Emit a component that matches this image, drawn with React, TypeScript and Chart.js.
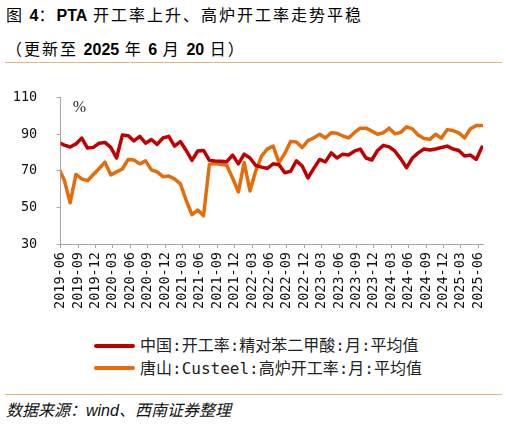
import React, { useEffect, useRef } from 'react';
import { Chart, registerables } from 'chart.js';

Chart.register(...registerables);

// Months of the series (first month falls just before the visible axis and is clipped)
const months: string[] = [];
for (let y = 2019; y <= 2025; y++) {
  for (let m = 1; m <= 12; m++) {
    const key = y * 100 + m;
    if (key >= 201905 && key <= 202506) months.push(`${y}-${String(m).padStart(2, '0')}`);
  }
}

// 中国:开工率:精对苯二甲酸:月:平均值 (%)
const ptaRate: number[] = [
  85.5, 84, 83, 84.7, 87.9, 82.4, 82.8, 85.1, 85.5, 82.8,
  77, 89.5, 89.2, 86.3, 88.8, 85.1, 87.1, 84.4, 87.9, 88.8,
  83.5, 86, 81.1, 75.7, 80.8, 81.1, 75.7, 75.4, 75.2, 75,
  78.6, 73.8, 79.1, 77, 72.9, 72, 71.3, 73.8, 73.3, 68.9,
  69.7, 75.4, 72.6, 66.1, 71.3, 76.2, 74.9, 79.8, 77, 79.1,
  78.6, 80.7, 81.9, 77, 75.9, 81.1, 83.9, 83.1, 80.7, 76.5,
  71.7, 77, 79.8, 81.9, 81.4, 81.9, 82.7, 83.5, 81.9, 81.1,
  78.1, 78.6, 76.2, 83,
];

// 唐山:Custeel:高炉开工率:月:平均值 (%)
const blastRate: number[] = [
  71.5, 64.8, 52.5, 68, 65.6, 64.6, 68, 71.3, 74.7, 67.8,
  69.4, 71, 76.2, 75.9, 73.8, 75.4, 70.5, 69.4, 66.8, 67.1,
  65.6, 62.9, 53.8, 46, 48.5, 45.5, 73.5, 74, 73.5, 73,
  66, 58.5, 74.5, 59, 70, 78, 82, 83.5, 74.5, 79.5,
  86, 85.8, 82.7, 86.5, 88, 90, 87.9, 90.8, 90.5, 89,
  88, 90.8, 93.3, 93.3, 91.7, 90, 90.8, 93.3, 90.2, 91,
  94, 92.9, 89.5, 87.6, 87.2, 90, 87.8, 92.5, 92, 90.7,
  88, 93, 94.7, 94.7,
];

const tickLabels: string[] = [
  '2019-06', '2019-09', '2019-12', '2020-03', '2020-06', '2020-09', '2020-12',
  '2021-03', '2021-06', '2021-09', '2021-12', '2022-03', '2022-06', '2022-09',
  '2022-12', '2023-03', '2023-06', '2023-09', '2023-12', '2024-03', '2024-06',
  '2024-09', '2024-12', '2025-03', '2025-06',
];

const seriesNames = ['中国:开工率:精对苯二甲酸:月:平均值', '唐山:Custeel:高炉开工率:月:平均值'];
const seriesColors = ['#C00000', '#E46C0A'];

// position in months from the 2019-06 tick; observations dated around the 20th
const DAY_FRACTION = 0.63;
function monthPos(m: string): number {
  const [y, mo] = m.split('-').map(Number);
  return (y - 2019) * 12 + (mo - 6) + DAY_FRACTION;
}

const percentPlugin = {
  id: 'percentLabel',
  afterDraw(chart: any) {
    const { ctx, chartArea } = chart;
    ctx.save();
    ctx.font = '16px "Liberation Serif"';
    ctx.fillStyle = '#222';
    ctx.textBaseline = 'middle';
    ctx.textAlign = 'left';
    ctx.fillText('%', chartArea.left + 12, chartArea.top + 10);
    ctx.restore();
  },
};

function ChartCanvas() {
  const ref = useRef<HTMLCanvasElement>(null);
  useEffect(() => {
    if (!ref.current) return;
    const axisColor = '#A6A6A6';
    const tickFont = { family: '"DejaVu Sans Mono"', size: 13.5 };
    const chart = new Chart(ref.current, {
      type: 'line',
      data: {
        datasets: [ptaRate, blastRate].map((vals, si) => ({
          label: seriesNames[si],
          data: months.map((m, i) => ({ x: monthPos(m), y: vals[i] })),
          borderColor: seriesColors[si],
          backgroundColor: seriesColors[si],
          borderWidth: 3.5,
          pointRadius: 0,
          tension: 0,
          borderJoinStyle: 'round' as const,
          borderCapStyle: 'round' as const,
        })),
      },
      options: {
        animation: false,
        responsive: false,
        events: [],
        layout: { padding: { top: 10.7, right: 25, left: 0, bottom: 0 } },
        plugins: { legend: { display: false }, tooltip: { enabled: false }, title: { display: false } },
        scales: {
          x: {
            type: 'linear',
            min: 0,
            max: 72.8,
            border: { display: true, color: axisColor, width: 1 },
            grid: { drawOnChartArea: false, drawTicks: true, tickLength: 4, color: axisColor },
            ticks: {
              stepSize: 3,
              autoSkip: false,
              includeBounds: false,
              maxRotation: 90,
              minRotation: 90,
              padding: 4,
              color: '#111',
              font: tickFont,
              callback: (v: any) => tickLabels[Math.round(Number(v) / 3)] ?? '',
            },
            afterFit: (s: any) => { s.height = 76; },
          },
          y: {
            type: 'linear',
            min: 30,
            max: 110,
            border: { display: true, color: axisColor, width: 1 },
            grid: { drawOnChartArea: false, drawTicks: true, tickLength: 4, color: axisColor },
            ticks: { stepSize: 20, padding: 19.5, color: '#111', font: tickFont },
            afterFit: (s: any) => { s.width = 60.7; },
          },
        },
      },
      plugins: [percentPlugin],
    });
    return () => chart.destroy();
  }, []);
  return (
    <canvas
      ref={ref}
      width={508}
      height={250}
      style={{ position: 'absolute', left: 0, top: 70, width: 508, height: 250 }}
    />
  );
}

const cjk = '"Noto Sans CJK SC"';
const latinBold: React.CSSProperties = { fontFamily: '"Liberation Sans", Arial, sans-serif', fontWeight: 'bold', letterSpacing: 0 };

export default function App() {
  return (
    <div style={{ position: 'fixed', left: 0, top: 0, width: 508, height: 425, background: '#fff', overflow: 'hidden' }}>
      <div style={{ position: 'absolute', left: 6, top: 2, lineHeight: '24px', fontSize: 16, fontFamily: cjk, letterSpacing: 2, color: '#000', whiteSpace: 'nowrap' }}>
        图 <span style={latinBold}>4</span>：<span style={latinBold}>PTA</span> 开工率上升、高炉开工率走势平稳
      </div>
      <div style={{ position: 'absolute', left: 6, top: 36, lineHeight: '24px', fontSize: 16, fontFamily: cjk, letterSpacing: 2, color: '#000', whiteSpace: 'nowrap' }}>
        （更新至 <span style={latinBold}>2025</span> 年 <span style={latinBold}>6</span> 月 <span style={latinBold}>20</span> 日）
      </div>
      <div style={{ position: 'absolute', left: 5, top: 61.5, width: 497, height: 1.5, background: '#E2B77E' }} />
      <ChartCanvas />
      {seriesNames.map((name, i) => (
        <div key={name} style={{ position: 'absolute', left: 94, top: 334 + i * 22.6, height: 23, display: 'flex', alignItems: 'center' }}>
          <div style={{ width: 41, height: 4, borderRadius: 2, background: seriesColors[i] }} />
          <span style={{ marginLeft: 5, fontSize: 16, lineHeight: '23px', fontFamily: '"DejaVu Sans Mono", "Noto Sans CJK SC"', color: '#222', whiteSpace: 'nowrap' }}>{name}</span>
        </div>
      ))}
      <div style={{ position: 'absolute', left: 5, top: 393.5, width: 497, height: 1.5, background: '#E2B77E' }} />
      <div style={{ position: 'absolute', left: 6, top: 399, lineHeight: '23px', fontSize: 16, fontStyle: 'italic', fontFamily: '"Liberation Sans", "Noto Sans CJK SC"', color: '#111', whiteSpace: 'nowrap' }}>
        数据来源：wind、西南证券整理
      </div>
    </div>
  );
}
